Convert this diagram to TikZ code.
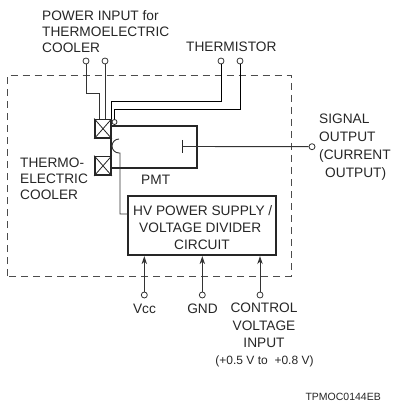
\documentclass[tikz,border=0pt]{standalone}
\usepackage{fontspec}
\setmainfont{Liberation Sans}
\usetikzlibrary{arrows.meta}
\tikzset{
  lbl/.style={inner sep=0pt,align=left,text=black!85,font=\fontsize{13.7}{16}\selectfont},
  term/.style={circle,draw=black!80,line width=.8pt,fill=white,minimum size=6pt,inner sep=0pt},
  wire/.style={draw=black!80,line width=.9pt},
  heavy/.style={draw=black!85,line width=1.8pt},
  pin/.style={wire,-{Stealth[length=8pt,width=5.5pt]}},
  tec/.style={heavy,fill=white,minimum width=16pt,minimum height=18.5pt,inner sep=0pt}
}
\begin{document}
\begin{tikzpicture}[x=1pt,y=-1pt]
\useasboundingbox (0,0) rectangle (395,403);
\draw[draw=black!70,line width=.8pt,dash pattern=on 7pt off 5pt] (7,276) -- (7,75.5) -- (291,75.5) -- (291,276) -- cycle;
% terminals
\node[term] (p1) at (86,61) {};
\node[term] (p2) at (105,61) {};
\node[term] (t1) at (221,61) {};
\node[term] (t2) at (240,61) {};
\node[term] (sig) at (312,146.7) {};
\node[term] (vcc) at (144.3,295) {};
\node[term] (gnd) at (202.3,295) {};
\node[term] (ctl) at (260,295) {};
% PMT and coolers
\node[heavy,draw,minimum width=85.5pt,minimum height=42pt,inner sep=0pt] (pmt) at (154,146.7) {};
\node[tec,draw] (tu) at (103,128.7) {};
\node[tec,draw] (tl) at (103,165.8) {};
\foreach \n in {tu,tl}{
  \draw[line width=.8pt,draw=black!85] (\n.north west) -- (\n.south east) (\n.north east) -- (\n.south west);
}
\coordinate (a) at (114.5,122);
\node[circle,draw=black!85,line width=.8pt,fill=white,minimum size=5pt,inner sep=0pt] (bulb) at (a) {};
% HV box
\node[heavy,draw,minimum width=147.5pt,minimum height=59.5pt,inner sep=0pt] (hv) at (202,225.5) {};
\node[lbl,anchor=base west] (hvt) at (133,215) {HV POWER SUPPLY /};
\node[lbl,anchor=base west] (hvu) at (139,232) {VOLTAGE DIVIDER};
\node[lbl,anchor=base west] (hvv) at (174,249) {CIRCUIT};
% wires
\coordinate (w1) at (99.3,119);
\coordinate (w2) at (105,119);
\coordinate (w3) at (111.7,119.5);
\draw[wire] (p1) -- (86,93.3) -- (99.3,93.3) -- (w1);
\draw[wire] (p2) -- (w2);
\draw[wire,draw=black] (t1) -- (221,101.3) -- (111.7,101.3) -- (w3);
\draw[wire,draw=black] (t2) -- (240,109) -- (114.5,109) -- (bulb);
% cathode
\coordinate (ca) at (119,139);
\coordinate (cb) at (119,153);
\draw[wire] (ca) arc[start angle=90,end angle=270,radius=7pt] -- ++(1,0) -- (120,214) -- (128.3,214);
% anode and signal
\coordinate (an) at (182.3,146.5);
\draw[line width=.9pt,draw=black!85] (182.3,140) -- (182.3,153);
\draw[wire] (an) -- (sig);
% pins
\draw[pin] (vcc) -- (vcc |- hv.south);
\draw[pin] (gnd) -- (gnd |- hv.south);
\draw[pin] (ctl) -- (ctl |- hv.south);
% labels
\node[lbl,anchor=north west] (l1) at (42,10) {POWER INPUT for\\THERMOELECTRIC\\COOLER};
\node[lbl,anchor=base west] (l2) at (186,52) {THERMISTOR};
\node[lbl,anchor=north west,font=\fontsize{13.7}{18}\selectfont] (l3) at (319,114) {SIGNAL\\OUTPUT\\(CURRENT\\\hspace*{6pt}OUTPUT)};
\node[lbl,anchor=north west] (l4) at (20,158) {THERMO-\\ELECTRIC\\COOLER};
\node[lbl,anchor=base west] (l5) at (141,184) {PMT};
\node[lbl,anchor=base] (l6) at (144.5,313) {Vcc};
\node[lbl,anchor=base] (l7) at (202.5,313) {GND};
\node[lbl,anchor=north,align=center,font=\fontsize{13.7}{17.5}\selectfont] (l8) at (264,303) {CONTROL\\VOLTAGE\\INPUT};
\node[lbl,anchor=base,font=\fontsize{12}{14}\selectfont] (l9) at (264.5,364) {(+0.5 V to\ \ +0.8 V)};
\node[lbl,anchor=base east,font=\fontsize{10.5}{12}\selectfont] (l10) at (381,400) {TPMOC0144EB};
\end{tikzpicture}
\end{document}
